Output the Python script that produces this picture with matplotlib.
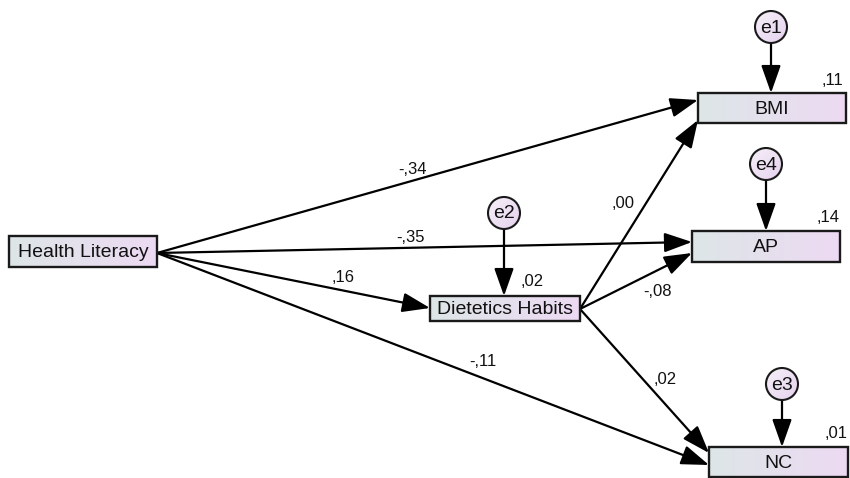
import numpy as np
import matplotlib
matplotlib.use("Agg")
import matplotlib.pyplot as plt
from matplotlib.patches import Rectangle, Circle, FancyArrowPatch, ArrowStyle
from matplotlib.colors import LinearSegmentedColormap

plt.rcParams['font.family'] = ['Liberation Sans', 'DejaVu Sans']

# ---- data ----
observed = ["Health Literacy", "Dietetics Habits", "BMI", "AP", "NC"]
errors = ["e1", "e2", "e3", "e4"]
error_targets = ["BMI", "Dietetics Habits", "NC", "AP"]
paths_from = ["Health Literacy", "Health Literacy", "Health Literacy", "Health Literacy",
              "Dietetics Habits", "Dietetics Habits", "Dietetics Habits"]
paths_to = ["BMI", "AP", "Dietetics Habits", "NC", "BMI", "AP", "NC"]
path_coef = ["-,34", "-,35", ",16", "-,11", ",00", "-,08", ",02"]
r2_nodes = ["Dietetics Habits", "BMI", "AP", "NC"]
r2_values = [",02", ",11", ",14", ",01"]

# ---- layout (pixel coordinates) ----
boxes = {
    "Health Literacy": (9, 236, 148, 31),
    "Dietetics Habits": (430, 296, 150, 25),
    "BMI": (698, 93, 148, 30),
    "AP": (692, 231, 148, 31),
    "NC": (709, 447, 139, 30),
}
circles = {"e1": (771, 27), "e2": (504, 213), "e3": (782, 384), "e4": (766, 164)}
R = 16
path_start = {"Health Literacy": (157, 253), "Dietetics Habits": (580, 309)}
path_end = [(698, 100), (692, 242), (430, 308), (709, 465), (698, 120), (692, 253), (709, 453)]
coef_pos = [(413, 169), (411, 237), (343, 277), (483, 361), (623, 203), (658, 291), (665, 380)]
r2_pos = [(532, 282), (832, 80), (828, 218), (836, 434)]

W, H = 850, 478
fig = plt.figure(figsize=(W / 100, H / 100), dpi=100)
ax = fig.add_axes([0, 0, 1, 1])
ax.set_xlim(0, W)
ax.set_ylim(H, 0)
ax.axis("off")

cmap = LinearSegmentedColormap.from_list("g", ["#dde6e7", "#eddaf3"])
grad = np.linspace(0, 1, 256).reshape(1, -1)

for name in observed:
    x, y, w, h = boxes[name]
    ax.imshow(grad, cmap=cmap, extent=(x, x + w, y + h, y), aspect="auto", zorder=2,
              interpolation="bilinear")
    ax.add_patch(Rectangle((x, y), w, h, fill=False, ec="#1a1a1a", lw=1.7, zorder=3))
    ax.text(x + w / 2, y + h / 2 + 1, name, ha="center", va="center", fontsize=14,
            color="#111111", zorder=4)

cmap_c = LinearSegmentedColormap.from_list("c", ["#f6f0f8", "#e6d2ee"])
gx, gy = np.meshgrid(np.linspace(0, 1, 64), np.linspace(0, 1, 64))
cgrad = (gx + gy) / 2
for name in errors:
    cx, cy = circles[name]
    im = ax.imshow(cgrad, cmap=cmap_c, extent=(cx - R, cx + R, cy + R, cy - R),
                   aspect="auto", zorder=2, interpolation="bilinear")
    c = Circle((cx, cy), R, fill=False, ec="#1a1a1a", lw=1.5, zorder=3)
    ax.add_patch(c)
    im.set_clip_path(c)
    ax.text(cx, cy + 1, name, ha="center", va="center", fontsize=14, color="#111111", zorder=4)

style = ArrowStyle("-|>", head_length=1.7, head_width=0.6)

def arrow(p0, p1):
    ax.add_patch(FancyArrowPatch(p0, p1, arrowstyle=style, mutation_scale=10,
                                 lw=1.6, color="black", shrinkA=0, shrinkB=0, zorder=1))

for e, t in zip(errors, error_targets):
    cx, cy = circles[e]
    x, y, w, h = boxes[t]
    arrow((cx, cy + R), (cx, y))

for f, t, end in zip(paths_from, paths_to, path_end):
    arrow(path_start[f], end)

for lab, (x, y) in zip(path_coef, coef_pos):
    ax.text(x, y, lab, ha="center", va="center", fontsize=12, color="#111111", zorder=5)
for lab, (x, y) in zip(r2_values, r2_pos):
    ax.text(x, y, lab, ha="center", va="center", fontsize=12, color="#111111", zorder=5)

fig.savefig("out.png", dpi=100, facecolor="white")
